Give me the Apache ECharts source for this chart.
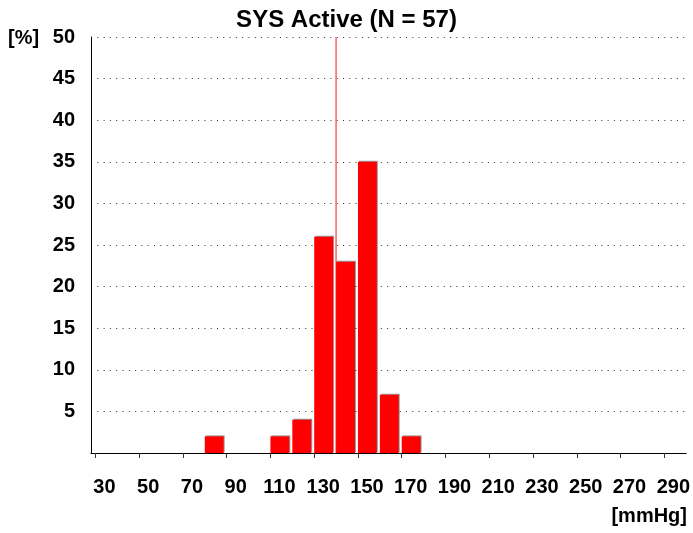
<!DOCTYPE html>
<html>
<head>
<meta charset="utf-8">
<script src="https://cdn.jsdelivr.net/npm/echarts@6/dist/echarts.min.js"></script>
<style>
  html, body { margin: 0; padding: 0; background: #fff; }
  #chart { width: 693px; height: 533px; }
</style>
</head>
<body>
<div id="chart"></div>
<script>
// histogram bins (start of each 10 mmHg class) and their share in %
const binStarts = [80, 110, 120, 130, 140, 150, 160, 170];
const binPercent = [2, 2, 4, 26, 23, 35, 7, 2];
const binWidth = 10;
const meanValue = 140;
const xTicks = [30, 50, 70, 90, 110, 130, 150, 170, 190, 210, 230, 250, 270, 290];
const yTicks = [5, 10, 15, 20, 25, 30, 35, 40, 45, 50];

const font = "'Liberation Sans', Arial, sans-serif";

let myChart = echarts.init(document.getElementById('chart'), null, { renderer: 'canvas' });

let barData = binStarts.map((s, i) => [s, binPercent[i]]);

let option = {
    animation: false,
    backgroundColor: '#fff',
    title: {
        text: 'SYS Active (N = 57)',
        left: 'center',
        top: 3,
        textStyle: { fontFamily: font, fontSize: 24, fontWeight: 'bold', color: '#000' }
    },
    grid: { left: 91, right: 6, top: 37, bottom: 80 },
    xAxis: {
        type: 'value',
        min: 28,
        max: 300,
        axisLine: { onZero: false, lineStyle: { color: '#000', width: 1 } },
        axisTick: { show: true, customValues: xTicks, length: 5, lineStyle: { color: '#333' } },
        axisLabel: {
            customValues: xTicks,
            margin: 24,
            padding: [0, 0, 0, 18],
            fontFamily: font, fontSize: 20, fontWeight: 'bold', color: '#000'
        },
        splitLine: { show: false }
    },
    yAxis: {
        type: 'value',
        min: 0,
        max: 50,
        interval: 5,
        axisLine: { show: true, lineStyle: { color: '#000', width: 1 } },
        axisTick: { show: false },
        axisLabel: {
            margin: 16,
            fontFamily: font, fontSize: 20, fontWeight: 'bold', color: '#000',
            formatter: v => (yTicks.indexOf(v) >= 0 ? String(v) : '')
        },
        splitLine: { show: true, lineStyle: { color: '#333', type: [1, 5.3], width: 1 } }
    },
    graphic: [
        {
            type: 'text', left: 8, top: 28,
            style: { text: '[%]', font: 'bold 20px ' + font, fill: '#000' }
        },
        {
            type: 'text', right: 6, top: 506,
            style: { text: '[mmHg]', font: 'bold 20px ' + font, fill: '#000' }
        }
    ],
    series: [
        {
            // mean line, sits behind the bars
            type: 'line',
            z: 1,
            symbol: 'none',
            silent: true,
            lineStyle: { color: '#ff6060', width: 1.5 },
            data: [[meanValue, 0], [meanValue, 50]]
        },
        {
            type: 'custom',
            z: 2,
            data: barData,
            renderItem: function (params, api) {
                let start = api.value(0);
                let val = api.value(1);
                let p0 = api.coord([start, val]);
                let p1 = api.coord([start + binWidth, 0]);
                let w = p1[0] - p0[0] - 3;
                return {
                    type: 'rect',
                    shape: { x: p0[0], y: p0[1], width: w, height: p1[1] - p0[1] },
                    style: {
                        fill: '#ff0000',
                        shadowColor: 'rgba(0,0,0,0.4)',
                        shadowOffsetX: 1,
                        shadowOffsetY: -1,
                        shadowBlur: 0
                    }
                };
            }
        }
    ]
};

myChart.setOption(option);
</script>
</body>
</html>
